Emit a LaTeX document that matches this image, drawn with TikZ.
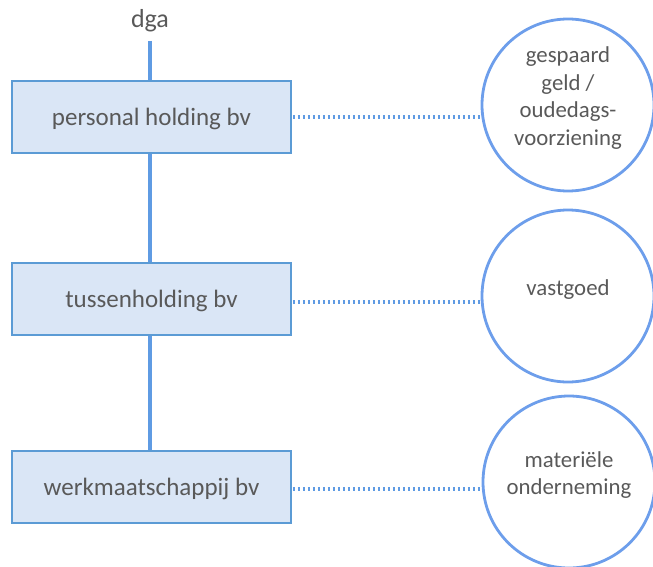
\documentclass[tikz,border=0pt]{standalone}
\usepackage{fontspec}
\setmainfont{Carlito}
\definecolor{txt}{HTML}{595959}
\definecolor{boxfill}{HTML}{DAE6F6}
\definecolor{boxline}{HTML}{5B9BD5}
\definecolor{conn}{HTML}{5F9BE3}
\definecolor{circ}{HTML}{6D9EEB}
\begin{document}
\begin{tikzpicture}[x=1pt,y=-1pt,
  entity/.style={draw=boxline, line width=1.6pt, fill=boxfill, minimum width=279pt, minimum height=72pt, inner sep=0pt, text=txt, text depth=0pt, font=\fontsize{25}{30}\selectfont},
  asset/.style={circle, draw=circ, line width=2.8pt, minimum size=172pt, inner sep=0pt},
  assettext/.style={text=txt, align=center, inner sep=0pt, font=\fontsize{22.8}{27.8}\selectfont},
  own/.style={draw=conn, line width=3.2pt},
  link/.style={draw=conn, line width=3.2pt, dash pattern=on 2.6pt off 2.4pt}]
\useasboundingbox (0,0) rectangle (653,567);
\node[text=txt, font=\fontsize{26}{30}\selectfont, inner sep=0pt] (dga) at (150,21) {dga};
\coordinate (top) at (150,41);
\node[entity] (b1) at (151.5,117) {personal holding bv};
\node[entity] (b2) at (151.5,299) {tussenholding bv};
\node[entity] (b3) at (151.5,487) {werkmaatschappij bv};
\node[asset] (c1) at (568,105) {};
\node[asset] (c2) at (568,296) {};
\node[asset] (c3) at (569,482) {};
\node[assettext] (c1t) at (568,98) {gespaard\\geld /\\oudedags-\\voorziening};
\node[assettext] (c2t) at (568,290) {vastgoed};
\node[assettext] (c3t) at (569,475) {materiële\\onderneming};
\draw[own] (top) -- (top |- b1.north);
\draw[own] (top |- b1.south) -- (top |- b2.north);
\draw[own] (top |- b2.south) -- (top |- b3.north);
\draw[link] ([xshift=1pt]b1.east) -- (b1.east -| c1.west);
\draw[link] ([xshift=1pt,yshift=-3pt]b2.east) -- ([yshift=-3pt]b2.east -| c2.west);
\draw[link] ([xshift=1pt,yshift=-2pt]b3.east) -- ([yshift=-2pt]b3.east -| c3.west);
\end{tikzpicture}
\end{document}
